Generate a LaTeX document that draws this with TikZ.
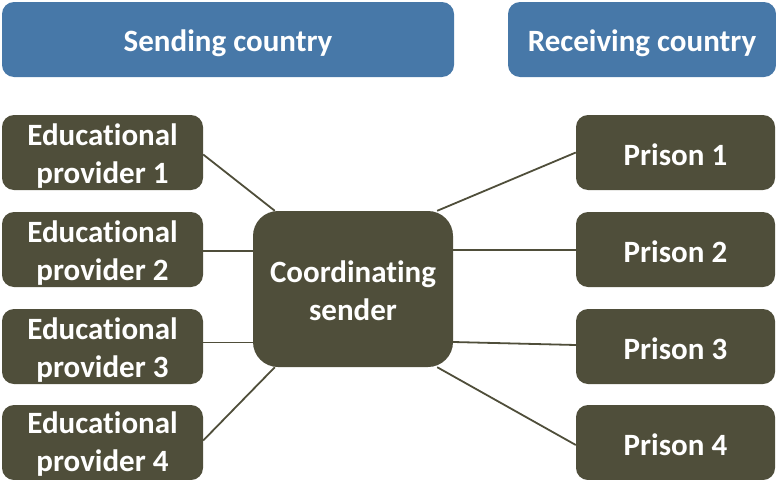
\documentclass[tikz,border=0pt]{standalone}
\usepackage{fontspec}
\setmainfont[Ligatures=NoCommon]{Carlito}
\usetikzlibrary{calc}
\definecolor{hdr}{HTML}{4778A8}
\definecolor{olive}{HTML}{4F4E3A}
\tikzset{
  box/.style={rectangle, fill=olive, rounded corners=12pt, text=white, align=center,
    inner sep=0pt, font=\fontsize{31}{38}\selectfont\bfseries},
  sidebox/.style={box, minimum width=201pt, minimum height=75pt},
  prisonbox/.style={box, minimum width=199pt, minimum height=75pt},
  hdrbox/.style={box, fill=hdr, minimum height=75pt},
  link/.style={draw=olive, line width=1.8pt},
  lbl/.style={text=white, align=center, inner sep=0pt, font=\fontsize{31}{38}\selectfont\bfseries}
}
\begin{document}
\begin{tikzpicture}[x=1pt,y=-1pt]
\useasboundingbox (0,0) rectangle (776,479);
\node[hdrbox, minimum width=452pt] (send) at (228,39.5) {};
\node[lbl] (sendt) at (228,43) {Sending country};
\node[hdrbox, minimum width=268pt] (recv) at (642,39.5) {};
\node[lbl] (recvt) at (642,43) {Receiving country};

\node[sidebox] (e1) at (102.5,152.5) {};
\node[lbl] (e1t) at (102.5,156) {Educat{}ional\\provider 1};
\node[sidebox] (e2) at (102.5,249.5) {};
\node[lbl] (e2t) at (102.5,253) {Educat{}ional\\provider 2};
\node[sidebox] (e3) at (102.5,346.5) {};
\node[lbl] (e3t) at (102.5,350) {Educat{}ional\\provider 3};
\node[sidebox] (e4) at (102.5,442.5) {};
\node[lbl] (e4t) at (102.5,444) {Educat{}ional\\provider 4};

\node[prisonbox] (p1) at (675.5,152.5) {};
\node[lbl] (p1t) at (675.5,155) {Prison 1};
\node[prisonbox] (p2) at (675.5,249.5) {};
\node[lbl] (p2t) at (675.5,252) {Prison 2};
\node[prisonbox] (p3) at (675.5,346.5) {};
\node[lbl] (p3t) at (675.5,349) {Prison 3};
\node[prisonbox] (p4) at (675.5,442.5) {};
\node[lbl] (p4t) at (675.5,445) {Prison 4};

\node[box, minimum width=200pt, minimum height=156pt, rounded corners=25pt] (c) at (353,289) {};
\node[lbl] (ct) at (353,291) {Coordinat{}ing\\sender};

\coordinate (ctl) at ($(c.north west)+(22,0)$);
\coordinate (cbl) at ($(c.south west)+(22,0)$);
\coordinate (ctr) at ($(c.north east)+(-16,0)$);
\coordinate (cbr) at ($(c.south east)+(-16,0)$);

\draw[link] ($(e1.east)+(0,2)$) -- (ctl);
\draw[link] ($(e2.east)+(0,1.5)$) -- ($(e2.east -| c.west)+(0,1.5)$);
\draw[link] ($(e3.east)+(0,-4)$) -- ($(e3.east -| c.west)+(0,-4)$);
\draw[link] ($(e4.east)+(0,-2)$) -- (cbl);

\draw[link] (ctr) -- (p1.west);
\draw[link] ($(p2.west -| c.east)+(0,0.5)$) -- ($(p2.west)+(0,0.5)$);
\draw[link] ($(p3.west -| c.east)+(0,-4.5)$) -- ($(p3.west)+(0,-1.5)$);
\draw[link] (cbr) -- ($(p4.west)+(0,2.5)$);
\end{tikzpicture}
\end{document}
